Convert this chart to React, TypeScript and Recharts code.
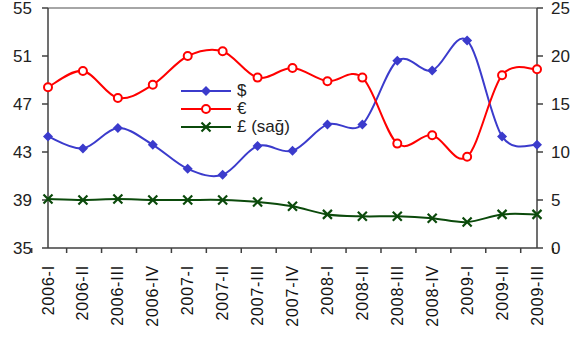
import React from 'react';
import {
    LineChart,
    Line,
    XAxis,
    YAxis,
    Legend,
    ReferenceLine,
} from 'recharts';

// Quarterly periods
const periods = [
    '2006-I', '2006-II', '2006-III', '2006-IV',
    '2007-I', '2007-II', '2007-III', '2007-IV',
    '2008-I', '2008-II', '2008-III', '2008-IV',
    '2009-I', '2009-II', '2009-III',
];

// Shares, left axis
const usd = [44.3, 43.3, 45.0, 43.6, 41.6, 41.1, 43.5, 43.1, 45.3, 45.3, 50.6, 49.8, 52.3, 44.3, 43.6];
const eur = [48.4, 49.75, 47.5, 48.6, 51.0, 51.4, 49.2, 50.0, 48.9, 49.2, 43.7, 44.4, 42.6, 49.4, 49.9];
// Share, right axis
const gbp = [5.1, 5.0, 5.1, 5.0, 5.0, 5.0, 4.8, 4.35, 3.5, 3.3, 3.3, 3.1, 2.7, 3.5, 3.5];

const leftTicks = [35, 39, 43, 47, 51, 55];
const rightTicks = [0, 5, 10, 15, 20, 25];

const data = periods.map((period, i) => ({
    period,
    usd: usd[i],
    eur: eur[i],
    gbp: gbp[i],
}));

const USD_COLOR = '#3b3bcc';
const EUR_COLOR = '#ff0000';
const GBP_COLOR = '#0b4a0b';
const AXIS_COLOR = '#404040';
const FONT = '"Liberation Sans", Arial, sans-serif';

// Smoothed line similar to spreadsheet "smoothed line" (Catmull-Rom style bezier)
const smoothCurve: any = (context: any) => {
    let pts: number[][] = [];
    return {
        areaStart() {},
        areaEnd() {},
        lineStart() { pts = []; },
        point(x: number, y: number) { pts.push([+x, +y]); },
        lineEnd() {
            if (!pts.length) return;
            context.moveTo(pts[0][0], pts[0][1]);
            for (let i = 0; i < pts.length - 1; i++) {
                const p0 = pts[i - 1] || pts[i];
                const p1 = pts[i];
                const p2 = pts[i + 1];
                const p3 = pts[i + 2] || pts[i + 1];
                context.bezierCurveTo(
                    p1[0] + (p2[0] - p0[0]) / 6, p1[1] + (p2[1] - p0[1]) / 6,
                    p2[0] - (p3[0] - p1[0]) / 6, p2[1] - (p3[1] - p1[1]) / 6,
                    p2[0], p2[1],
                );
            }
        },
    };
};

const Diamond = ({ cx, cy }: { cx: number; cy: number }) => (
    <path d={`M${cx},${cy - 5} L${cx + 5},${cy} L${cx},${cy + 5} L${cx - 5},${cy} Z`} fill={USD_COLOR} />
);
const Ring = ({ cx, cy }: { cx: number; cy: number }) => (
    <circle cx={cx} cy={cy} r={4} fill="#fff" stroke={EUR_COLOR} strokeWidth={2} />
);
const Cross = ({ cx, cy }: { cx: number; cy: number }) => (
    <path d={`M${cx - 4.5},${cy - 4.5} L${cx + 4.5},${cy + 4.5} M${cx + 4.5},${cy - 4.5} L${cx - 4.5},${cy + 4.5}`} stroke={GBP_COLOR} strokeWidth={2.2} />
);

const dotOf = (Marker: any, name: string) => (props: any) => {
    if (props.cx == null || props.cy == null) return <g key={`${name}-${props.index}`} />;
    return (
        <g key={`${name}-${props.index}`}>
            <Marker cx={props.cx} cy={props.cy} />
        </g>
    );
};

const legendItems = [
    { label: '$', color: USD_COLOR, Marker: Diamond },
    { label: '€', color: EUR_COLOR, Marker: Ring },
    { label: '£ (sağ)', color: GBP_COLOR, Marker: Cross },
];

const renderLegend = () => (
    <div style={{ fontFamily: FONT, fontSize: 17, color: '#222' }}>
        {legendItems.map(({ label, color, Marker }) => (
            <div key={label} style={{ display: 'flex', alignItems: 'center', height: 18 }}>
                <svg width={52} height={18}>
                    <line x1={1} x2={51} y1={9} y2={9} stroke={color} strokeWidth={2} />
                    <Marker cx={26} cy={9} />
                </svg>
                <span style={{ marginLeft: 5, lineHeight: '18px' }}>{label}</span>
            </div>
        ))}
    </div>
);

// Category ticks sit on the boundaries between periods, labels rotated
const PeriodTick = (props: any) => {
    const { x, y, payload, index } = props;
    const half = payload?.offset || 16.3;
    return (
        <g>
            <line x1={x - half} x2={x - half} y1={y} y2={y + 5} stroke={AXIS_COLOR} strokeWidth={1.5} />
            {index === periods.length - 1 && (
                <line x1={x + half} x2={x + half} y1={y} y2={y + 5} stroke={AXIS_COLOR} strokeWidth={1.5} />
            )}
            <g transform={`translate(${x},${y + 17}) rotate(-90)`}>
                <text
                    x={0}
                    y={0}
                    textAnchor="end"
                    dominantBaseline="central"
                    fontFamily={FONT}
                    fontSize={16}
                    letterSpacing={0.8}
                    fill="#111"
                >
                    {payload.value}
                </text>
            </g>
        </g>
    );
};

export default function App() {
    return (
        <div style={{ position: 'absolute', left: 0, top: 0, width: 577, height: 341, background: '#fff' }}>
            <LineChart width={577} height={341} data={data} margin={{ top: 8, right: 0, bottom: 0, left: 0 }}>
                <XAxis
                    dataKey="period"
                    xAxisId={0}
                    height={93}
                    tickLine={false}
                    tickSize={0}
                    tickMargin={0}
                    interval={0}
                    tick={<PeriodTick />}
                    axisLine={{ stroke: AXIS_COLOR, strokeWidth: 1.5 }}
                />
                <YAxis
                    yAxisId="left"
                    orientation="left"
                    width={48}
                    domain={[35, 55]}
                    ticks={leftTicks}
                    interval={0}
                    tickSize={6}
                    tickMargin={10}
                    axisLine={{ stroke: AXIS_COLOR, strokeWidth: 1.5 }}
                    tickLine={{ stroke: AXIS_COLOR, strokeWidth: 1.5 }}
                    tick={{ fontFamily: FONT, fontSize: 17, fill: '#222' }}
                />
                <YAxis
                    yAxisId="right"
                    orientation="right"
                    width={40}
                    domain={[0, 25]}
                    ticks={rightTicks}
                    interval={0}
                    tickSize={6}
                    tickMargin={8}
                    axisLine={{ stroke: AXIS_COLOR, strokeWidth: 1.5 }}
                    tickLine={{ stroke: AXIS_COLOR, strokeWidth: 1.5 }}
                    tick={{ fontFamily: FONT, fontSize: 17, fill: '#222', textAnchor: 'start' }}
                />
                <ReferenceLine yAxisId="left" y={55} stroke="#a6a6a6" strokeWidth={2} />
                <Legend
                    layout="vertical"
                    align="center"
                    verticalAlign="middle"
                    content={renderLegend}
                    wrapperStyle={{ left: 180, top: 82, width: 'auto', height: 'auto' }}
                />
                <Line
                    yAxisId="left"
                    dataKey="usd"
                    type={smoothCurve}
                    stroke={USD_COLOR}
                    strokeWidth={2}
                    dot={dotOf(Diamond, 'usd')}
                    activeDot={false}
                    isAnimationActive={false}
                />
                <Line
                    yAxisId="left"
                    dataKey="eur"
                    type={smoothCurve}
                    stroke={EUR_COLOR}
                    strokeWidth={2}
                    dot={dotOf(Ring, 'eur')}
                    activeDot={false}
                    isAnimationActive={false}
                />
                <Line
                    yAxisId="right"
                    dataKey="gbp"
                    type={smoothCurve}
                    stroke={GBP_COLOR}
                    strokeWidth={2}
                    dot={dotOf(Cross, 'gbp')}
                    activeDot={false}
                    isAnimationActive={false}
                />
            </LineChart>
        </div>
    );
}
